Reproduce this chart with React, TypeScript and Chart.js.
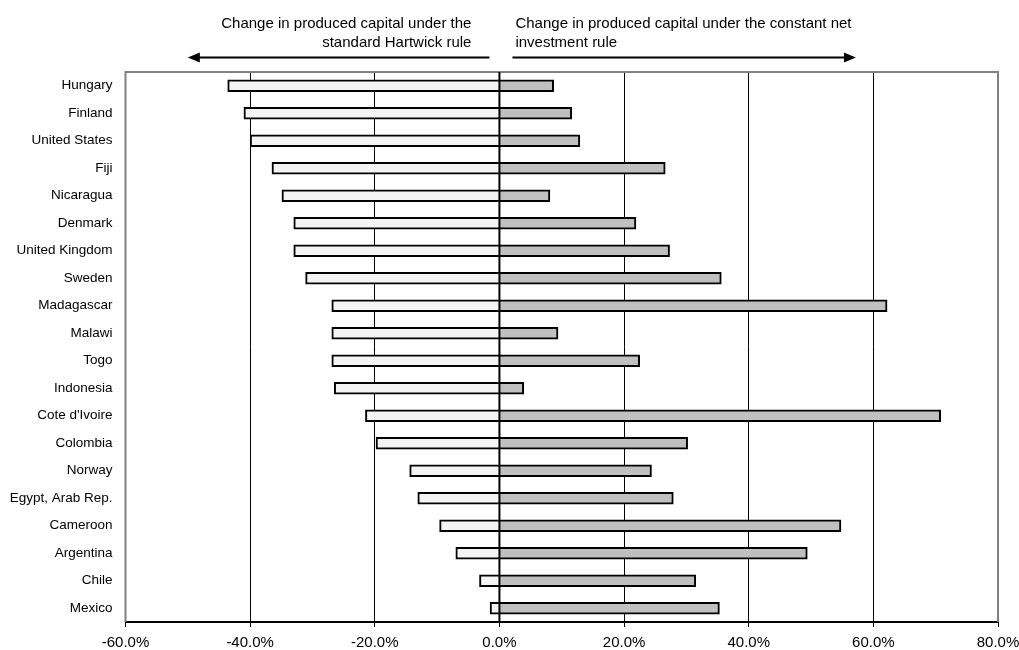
import React, { useEffect, useRef } from "react";
import { Chart, registerables } from "chart.js";

Chart.register(...registerables);

const countries = [
  "Hungary",
  "Finland",
  "United States",
  "Fiji",
  "Nicaragua",
  "Denmark",
  "United Kingdom",
  "Sweden",
  "Madagascar",
  "Malawi",
  "Togo",
  "Indonesia",
  "Cote d'Ivoire",
  "Colombia",
  "Norway",
  "Egypt, Arab Rep.",
  "Cameroon",
  "Argentina",
  "Chile",
  "Mexico",
];

const hartwickRule = [
  -43.6, -41.0, -40.0, -36.5, -34.9, -33.0, -33.0, -31.1, -26.9, -26.9, -26.9,
  -26.5, -21.5, -19.8, -14.4, -13.1, -9.6, -7.0, -3.2, -1.5,
];

const constantNetRule = [
  8.7, 11.6, 12.9, 26.6, 8.1, 21.9, 27.3, 35.6, 62.2, 9.4, 22.5, 3.9, 70.8,
  30.2, 24.4, 27.9, 54.8, 49.4, 31.5, 35.3,
];

const xTickValues = [-60, -40, -20, 0, 20, 40, 60, 80];

const leftNote = ["Change in produced capital under the", "standard Hartwick rule"];
const rightNote = ["Change in produced capital under the constant net", "investment rule"];

const FONT = "'Liberation Sans', Arial, sans-serif";

const framePlugin = {
  id: "frameAndNotes",
  afterDatasetsDraw(chart: any) {
    const { ctx, chartArea: a, scales } = chart;
    ctx.save();
    ctx.strokeStyle = "#808080";
    ctx.lineWidth = 2;
    ctx.beginPath();
    ctx.moveTo(a.left, a.bottom);
    ctx.lineTo(a.left, a.top);
    ctx.lineTo(a.right, a.top);
    ctx.lineTo(a.right, a.bottom);
    ctx.stroke();
    const x0 = scales.x.getPixelForValue(0);
    ctx.strokeStyle = "#000";
    ctx.lineWidth = 2;
    ctx.beginPath();
    ctx.moveTo(x0, a.top);
    ctx.lineTo(x0, a.bottom);
    ctx.stroke();
    ctx.restore();
  },
  afterDraw(chart: any) {
    const { ctx, scales } = chart;
    const x0 = scales.x.getPixelForValue(0);
    ctx.save();
    ctx.fillStyle = "#000";
    ctx.font = `15px ${FONT}`;
    ctx.textBaseline = "middle";
    ctx.textAlign = "right";
    leftNote.forEach((t, i) => ctx.fillText(t, x0 - 28, 24 + i * 19));
    ctx.textAlign = "left";
    rightNote.forEach((t, i) => ctx.fillText(t, x0 + 16, 24 + i * 19));

    const ay = 57.5;
    ctx.strokeStyle = "#000";
    ctx.lineWidth = 2;
    // left arrow
    const lStart = x0 - 10;
    const lTip = scales.x.getPixelForValue(-50);
    ctx.beginPath();
    ctx.moveTo(lStart, ay);
    ctx.lineTo(lTip + 10, ay);
    ctx.stroke();
    ctx.beginPath();
    ctx.moveTo(lTip, ay);
    ctx.lineTo(lTip + 12, ay - 5);
    ctx.lineTo(lTip + 12, ay + 5);
    ctx.closePath();
    ctx.fill();
    // right arrow
    const rStart = x0 + 13;
    const rTip = scales.x.getPixelForValue(57.2);
    ctx.beginPath();
    ctx.moveTo(rStart, ay);
    ctx.lineTo(rTip - 10, ay);
    ctx.stroke();
    ctx.beginPath();
    ctx.moveTo(rTip, ay);
    ctx.lineTo(rTip - 12, ay - 5);
    ctx.lineTo(rTip - 12, ay + 5);
    ctx.closePath();
    ctx.fill();
    ctx.restore();
  },
};

export default function App() {
  const canvasRef = useRef<HTMLCanvasElement | null>(null);

  useEffect(() => {
    const canvas = canvasRef.current;
    if (!canvas) return;
    const chart = new Chart(canvas, {
      type: "bar",
      data: {
        labels: countries,
        datasets: [
          {
            label: "Standard Hartwick rule",
            data: hartwickRule,
            backgroundColor: "#f4f4f4",
            borderColor: "#000",
            borderWidth: 2,
            barThickness: 12,
          },
          {
            label: "Constant net investment rule",
            data: constantNetRule,
            backgroundColor: "#c0c0c0",
            borderColor: "#000",
            borderWidth: 2,
            barThickness: 12,
          },
        ],
      },
      options: {
        indexAxis: "y",
        responsive: false,
        animation: false,
        devicePixelRatio: 1,
        layout: { padding: { top: 72, right: 21, left: 0, bottom: 0 } },
        plugins: {
          legend: { display: false },
          tooltip: { enabled: false },
        },
        scales: {
          x: {
            stacked: true,
            min: -60,
            max: 80,
            afterBuildTicks: (scale: any) => {
              scale.ticks = xTickValues.map((v) => ({ value: v }));
            },
            afterFit: (scale: any) => {
              scale.height = 28;
              scale.paddingLeft = 0;
              scale.paddingRight = 0;
            },
            ticks: {
              color: "#000",
              font: { family: FONT, size: 15 },
              padding: 7,
              maxRotation: 0,
              autoSkip: false,
              callback: (v: any) => Number(v).toFixed(1) + "%",
            },
            grid: {
              color: (c: any) =>
                c.tick && (c.tick.value === -60 || c.tick.value === 80)
                  ? "rgba(0,0,0,0)"
                  : "#000",
              lineWidth: 1,
              tickColor: "#000",
              tickLength: 5,
              drawTicks: true,
            },
            border: { display: true, color: "#000", width: 2 },
          },
          y: {
            stacked: true,
            afterFit: (scale: any) => {
              scale.width = 125.5;
            },
            ticks: {
              color: "#000",
              font: { family: FONT, size: 13.5 },
              padding: 13,
              autoSkip: false,
            },
            grid: { display: false, drawTicks: false },
            border: { display: false },
          },
        },
      },
      plugins: [framePlugin],
    });
    return () => chart.destroy();
  }, []);

  return (
    <div style={{ position: "absolute", left: 0, top: 0, width: 1019, height: 650 }}>
      <canvas ref={canvasRef} width={1019} height={650} style={{ display: "block" }} />
    </div>
  );
}
